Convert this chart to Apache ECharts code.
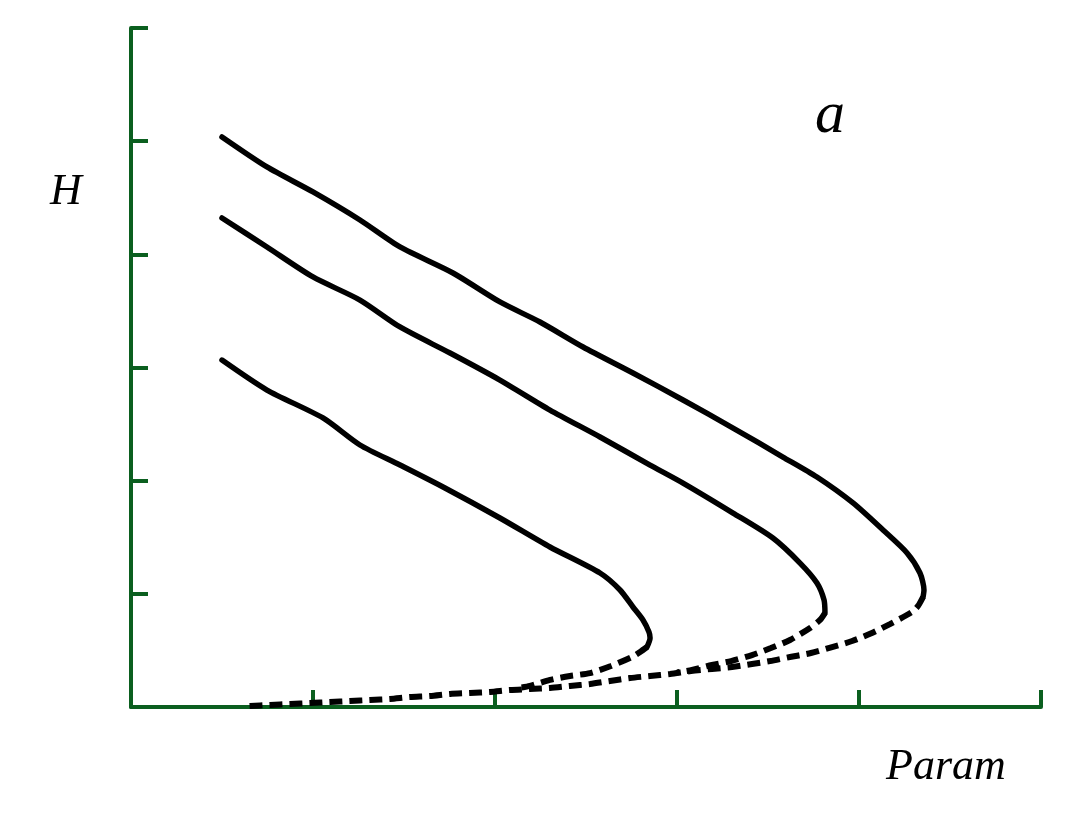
<!DOCTYPE html>
<html>
<head>
<meta charset="utf-8">
<script src="https://cdn.jsdelivr.net/npm/echarts@6/dist/echarts.min.js"></script>
<style>
html,body{margin:0;padding:0;background:#fff;}
#chart{width:1080px;height:825px;}
</style>
</head>
<body>
<div id="chart"></div>
<script>
// Axis ranges / ticks (no tick labels shown)
const xTicks = [0, 1, 2, 3, 4, 5];
const yTicks = [0, 1, 2, 3, 4, 5, 6];

// Upper (stable, solid) branches: [Param, H]
const solidTop = [
  [0.500,5.037],[0.747,4.772],[1.000,4.551],[1.258,4.303],[1.478,4.065],[1.769,3.835],
  [2.027,3.579],[2.247,3.402],[2.484,3.181],[2.758,2.951],[3.033,2.713],[3.308,2.465],
  [3.582,2.209],[3.769,2.032],[3.967,1.803],[4.132,1.564],[4.264,1.361],[4.335,1.184],
  [4.357,1.034],[4.352,0.972]
];
const solidMid = [
  [0.500,4.321],[0.747,4.065],[1.000,3.800],[1.258,3.596],[1.478,3.358],[1.753,3.128],
  [2.027,2.889],[2.302,2.624],[2.577,2.386],[2.852,2.138],[3.033,1.979],[3.308,1.714],
  [3.527,1.493],[3.676,1.272],[3.769,1.096],[3.808,0.945],[3.813,0.831]
];
const solidLow = [
  [0.500,3.066],[0.747,2.801],[1.055,2.554],[1.258,2.315],[1.478,2.138],[1.725,1.935],
  [2.027,1.670],[2.302,1.414],[2.577,1.184],[2.687,1.034],[2.758,0.884],[2.813,0.769],
  [2.846,0.663],[2.852,0.610],[2.835,0.530]
];

// Lower (unstable, dashed) branches
const dashTop = [
  [4.352,0.972],[4.324,0.892],[4.291,0.839],[4.170,0.733],[4.071,0.654],[3.962,0.583],
  [3.852,0.530],[3.736,0.477],[3.621,0.442],[3.511,0.406],[3.412,0.380],[3.302,0.353],
  [3.192,0.336],[3.077,0.318],[2.962,0.292],[2.852,0.274],[2.742,0.256],[2.632,0.230],
  [2.522,0.203],[2.412,0.186],[2.302,0.168],[2.192,0.159],[2.082,0.150],[1.973,0.133],
  [1.863,0.124],[1.753,0.115],[1.643,0.097],[1.533,0.088],[1.423,0.071],[1.313,0.062],
  [1.203,0.053],[1.093,0.044],[0.984,0.035],[0.874,0.027],[0.764,0.018],[0.654,0.009],
  [0.621,0.004]
];
const dashMid = [
  [3.813,0.831],[3.786,0.769],[3.731,0.698],[3.621,0.592],[3.516,0.521],[3.412,0.459],
  [3.297,0.406],[3.192,0.371],[3.082,0.327],[3.000,0.305]
];
const dashLow = [
  [2.835,0.530],[2.797,0.486],[2.753,0.442],[2.637,0.362],[2.522,0.300],[2.412,0.274],
  [2.302,0.239],[2.192,0.186],[2.120,0.165]
];

const green = '#0b5f1f';
const chart = echarts.init(document.getElementById('chart'), null, {renderer: 'canvas'});

function solid(data){
  return {type:'line', data:data, smooth:0.25, symbol:'none',
    lineStyle:{color:'#000', width:5.5, cap:'round', join:'round'}, z:3};
}
function dashed(data){
  return {type:'line', data:data, smooth:0.25, symbol:'none',
    lineStyle:{color:'#000', width:6, type:[13,7], cap:'butt'}, z:3};
}

chart.setOption({
  animation:false,
  backgroundColor:'#fff',
  grid:{left:131, right:39, top:28, bottom:118},
  xAxis:{
    type:'value', min:xTicks[0], max:xTicks[xTicks.length-1], interval:1,
    axisLine:{show:true, lineStyle:{color:green, width:4}},
    axisTick:{show:true, inside:true, length:17, lineStyle:{color:green, width:4}},
    axisLabel:{show:false}, splitLine:{show:false}
  },
  yAxis:{
    type:'value', min:yTicks[0], max:yTicks[yTicks.length-1], interval:1,
    axisLine:{show:true, lineStyle:{color:green, width:4}},
    axisTick:{show:true, inside:true, length:17, lineStyle:{color:green, width:4}},
    axisLabel:{show:false}, splitLine:{show:false}
  },
  graphic:[
    {type:'text', left:50, top:170, style:{text:'H', font:'italic 44px "Liberation Serif"', fill:'#000'}},
    {type:'text', left:886, top:745, style:{text:'Param', font:'italic 44px "Liberation Serif"', fill:'#000'}},
    {type:'text', left:815, top:86, style:{text:'a', font:'italic 60px "Liberation Serif"', fill:'#000'}}
  ],
  series:[
    solid(solidTop), solid(solidMid), solid(solidLow),
    dashed(dashTop), dashed(dashMid), dashed(dashLow)
  ]
});
</script>
</body>
</html>
